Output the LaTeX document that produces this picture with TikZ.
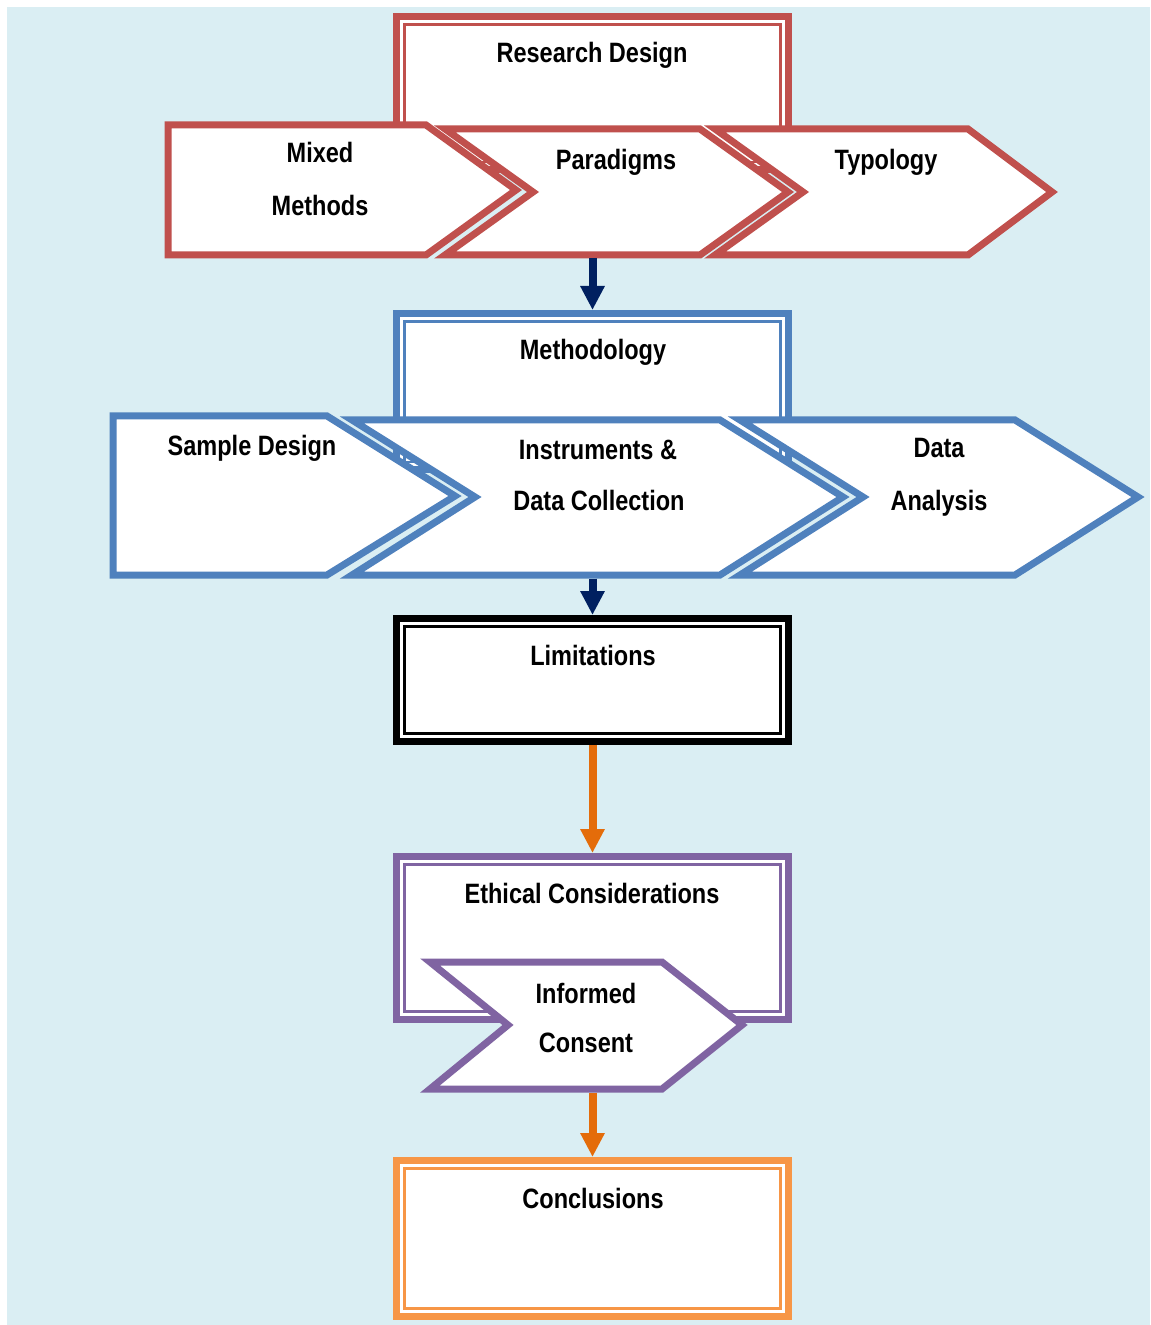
\documentclass[tikz,border=0pt]{standalone}
\usepackage{fontspec}
\setmainfont{Liberation Sans}[FakeStretch=0.84]
\usetikzlibrary{arrows.meta}
\definecolor{bgblue}{HTML}{DAEEF3}
\definecolor{cred}{HTML}{C0504D}
\definecolor{cblue}{HTML}{4F81BD}
\definecolor{cpurple}{HTML}{8064A2}
\definecolor{corange}{HTML}{F79646}
\definecolor{cnavy}{HTML}{002060}
\definecolor{carrow}{HTML}{E46C0A}
\begin{document}
\begin{tikzpicture}[x=0.5pt,y=-0.5pt,
  % framed box: thick outer line with a thin inner line
  dbox/.style={draw=#1, line width=3.5pt, fill=white, inner sep=0pt, outer sep=0pt,
    minimum width=196pt, line join=miter,
    path picture={\draw[#1, line width=1.25pt]
      ([shift={(4.1pt,4.1pt)}]path picture bounding box.south west) rectangle
      ([shift={(-4.1pt,-4.1pt)}]path picture bounding box.north east);}},
  chev/.style={draw=#1, line width=3.5pt, fill=white, line join=miter},
  lbl/.style={font=\fontsize{14pt}{16pt}\selectfont\bfseries, anchor=base, inner sep=0pt},
  flow/.style={draw=#1, line width=4pt, shorten >=1.75pt,
    -{Triangle[width=11.5pt,length=12pt]}},
]
\useasboundingbox (0,0) rectangle (1150,1325);
\fill[white] (0,0) rectangle (1150,1325);
\fill[bgblue] (7,7) rectangle (1150,1325);

% ---- research design row ----
\node[dbox=cred, minimum height=76.75pt] (rd) at (592.5,93.25) {};
\node[lbl] (rdT) at (592,63) {Research Design};
\draw[chev=cred] (168,125) -- (426,125) -- (516,190) -- (426,255) -- (168,255) -- cycle;
\draw[chev=cred] (445,129) -- (700,129) -- (788,192) -- (700,255) -- (445,255) -- (533,192) -- cycle;
\draw[chev=cred] (715,129) -- (968,129) -- (1052,192) -- (968,255) -- (715,255) -- (803,192) -- cycle;
\node[lbl] (mmA) at (320,163) {Mixed};
\node[lbl] (mmB) at (320,216) {Methods};
\node[lbl] (pdT) at (616,170) {Paradigms};
\node[lbl] (tyT) at (886,170) {Typology};

% ---- methodology row ----
\node[dbox=cblue, minimum height=78.25pt] (mt) at (592.5,391.75) {};
\node[lbl] (mtT) at (593,360) {Methodology};
\draw[chev=cblue] (113,416) -- (327,416) -- (455,496) -- (327,575) -- (113,575) -- cycle;
\draw[chev=cblue] (352,420) -- (720,420) -- (843,497) -- (720,575) -- (352,575) -- (475,497) -- cycle;
\draw[chev=cblue] (740,420) -- (1015,420) -- (1138,497) -- (1015,575) -- (740,575) -- (863,497) -- cycle;
\node[lbl] (sdT) at (252,456) {Sample Design};
\node[lbl] (inA) at (598,459) {Instruments \&};
\node[lbl] (inB) at (599,510) {Data Collection};
\node[lbl] (daA) at (939,458) {Data};
\node[lbl] (daB) at (939,510) {Analysis};

% ---- limitations ----
\node[dbox=black, minimum height=61.5pt] (lim) at (592.5,680) {};
\node[lbl] (limT) at (593,665) {Limitations};

% ---- ethical considerations ----
\node[dbox=cpurple, minimum height=81.5pt] (eth) at (592.5,938) {};
\node[lbl] (ethT) at (592,903) {Ethical Considerations};
\draw[chev=cpurple] (430,962) -- (662,962) -- (742,1025) -- (662,1089) -- (430,1089) -- (508,1025) -- cycle;
\node[lbl] (icA) at (586,1003) {Informed};
\node[lbl] (icB) at (586,1052) {Consent};

% ---- conclusions ----
\node[dbox=corange, minimum height=78pt] (con) at (592.5,1238.5) {};
\node[lbl] (conT) at (593,1208) {Conclusions};

% ---- connectors ----
\coordinate (rowA) at (592.5,258.5);
\coordinate (rowB) at (592.5,578.5);
\coordinate (icEnd) at (592.5,1092.5);
\draw[flow=cnavy] (rowA) -- (mt.north);
\draw[flow=cnavy] (rowB) -- (lim.north);
\draw[flow=carrow, shorten <=1.75pt] (lim.south) -- (eth.north);
\draw[flow=carrow] (icEnd) -- (con.north);
\end{tikzpicture}
\end{document}
